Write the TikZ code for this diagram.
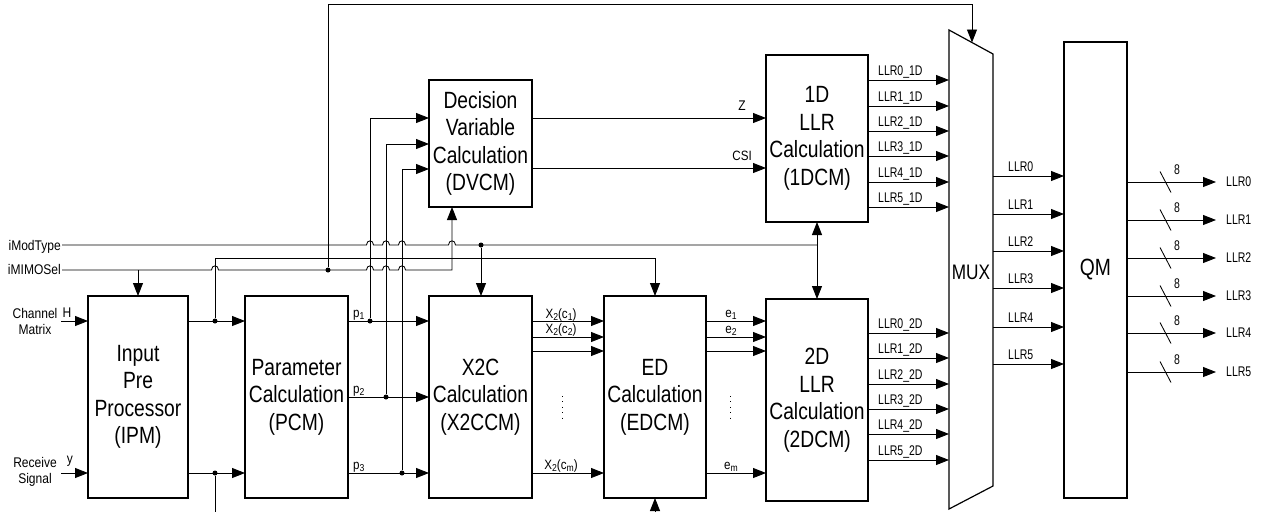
\documentclass[tikz,border=0pt]{standalone}
\usepackage{fontspec}
\setmainfont{Liberation Sans}[FakeStretch=0.82]
\newfontfamily\llrf{Liberation Sans}[FakeStretch=0.75]
\newfontfamily\lblf{Liberation Sans}[FakeStretch=0.86]
\usetikzlibrary{arrows.meta,calc}
\newcommand\sbx[1]{\raisebox{-0.35ex}{\fontsize{10}{10}\selectfont #1}}
\tikzset{
  box/.style={draw, line width=1.2pt, inner sep=0pt, outer sep=0pt, align=center,
    font=\fontsize{23.5}{27.5}\selectfont},
  wire/.style={line width=0.85pt},
  arr/.style={wire, -{Triangle[length=13pt,width=10pt]}},
  jdot/.style={circle, fill, inner sep=0pt, minimum size=5pt},
  llr/.style={font=\llrf\fontsize{14}{16}\selectfont, inner sep=0pt},
  lbl/.style={font=\lblf\fontsize{14}{16}\selectfont, inner sep=0pt, align=center},
  sig/.style={font=\lblf\fontsize{13.5}{15}\selectfont, inner sep=0pt},
}
\begin{document}
\begin{tikzpicture}[x=1pt,y=-1pt]
\useasboundingbox (0,0) rectangle (1265,512);

% ---------- blocks ----------
\node[box,minimum width=100,minimum height=202] (ipm) at (138,397) {Input\\Pre\\Processor\\(IPM)};
\node[box,minimum width=103,minimum height=202] (pcm) at (296.5,397) {Parameter\\Calculation\\(PCM)};
\node[box,minimum width=103,minimum height=127] (dvcm) at (480.5,143.5) {Decision\\Variable\\Calculation\\(DVCM)};
\node[box,minimum width=103,minimum height=202] (x2c) at (480.5,397) {X2C\\Calculation\\(X2CCM)};
\node[box,minimum width=102,minimum height=202] (ed) at (655,397) {ED\\Calculation\\(EDCM)};
\node[box,minimum width=102,minimum height=167] (d1) at (817,138.5) {1D\\LLR\\Calculation\\(1DCM)};
\node[box,minimum width=102,minimum height=202] (d2) at (817,400) {2D\\LLR\\Calculation\\(2DCM)};
\node[box,minimum width=63,minimum height=456] (qm) at (1095.5,270) {QM};

% MUX trapezoid
\draw[line width=1.2pt] (949,30) coordinate (mxa) -- (993,54) coordinate (mxb)
  -- (993,486) coordinate (mxc) -- (949,509) coordinate (mxd) -- cycle;
\node[font=\fontsize{21}{24}\selectfont, inner sep=0pt] (mux) at (971,272) {MUX};
\coordinate (muxtop) at (972,42.5);

% ---------- inputs ----------
\node[lbl] (chm) at (35,321) {Channel\\Matrix};
\node[lbl, anchor=base] (hl) at (67,317) {H};
\coordinate (hin) at (61,321);
\draw[arr] (hin) -- (ipm.west|-hin);
\node[lbl] (rcv) at (35,472) {Receive\\Signal};
\node[lbl, anchor=base] (yl) at (70,463) {y};
\coordinate (yin) at (61,473);
\draw[arr] (yin) -- (ipm.west|-yin);

\node[lbl, anchor=base east] (imt) at (61,250) {iModType};
\node[lbl, anchor=east] (ims) at (61,269) {iMIMOSel};
\coordinate (mt0) at (62,245);
\coordinate (ms0) at (62,270);

% ---------- IPM -> PCM ----------
\draw[arr] (ipm.east|-hin) -- (pcm.west|-hin);
\draw[arr] (ipm.east|-yin) -- (pcm.west|-yin);
\node[jdot] (jh) at (215,321) {};
\node[jdot] (jy) at (215,473) {};
\draw[wire] (jy) -- (jy|-0,512);
\coordinate (edc) at (655,258);
\draw[arr] (jh) |- (edc) -- (ed.north);
\draw[arr] (ed.south|-0,512) -- (ed.south);

% ---------- PCM -> X2C and DVCM ----------
\draw[arr] (pcm.east|-0,321) -- (x2c.west|-0,321);
\draw[arr] (pcm.east|-0,397) -- (x2c.west|-0,397);
\draw[arr] (pcm.east|-0,473) -- (x2c.west|-0,473);
\node[sig, anchor=base west] (p1) at (353,317) {p\sbx{1}};
\node[sig, anchor=base west] (p2) at (353,393) {p\sbx{2}};
\node[sig, anchor=base west] (p3) at (353,469) {p\sbx{3}};
\node[jdot] (jp1) at (370,321) {};
\node[jdot] (jp2) at (386,397) {};
\node[jdot] (jp3) at (402,473) {};
\draw[arr] (jp1) |- (dvcm.west|-0,118);
\draw[arr] (jp2) |- (dvcm.west|-0,144);
\draw[arr] (jp3) |- (dvcm.west|-0,169);

% ---------- control lines ----------
\coordinate (j12) at (817,245);
\draw[wire] (mt0) -- (366.5,245) .. controls (366.5,239.5) and (373.5,239.5) .. (373.5,245)
  -- (382.5,245) .. controls (382.5,239.5) and (389.5,239.5) .. (389.5,245)
  -- (398.5,245) .. controls (398.5,239.5) and (405.5,239.5) .. (405.5,245)
  -- (448.5,245) .. controls (448.5,239.5) and (455.5,239.5) .. (455.5,245)
  -- (j12);
\node[jdot] (jx) at (481,245) {};
\draw[arr] (jx) -- (jx|-x2c.north);
\draw[arr] (j12) -- (d1.south);
\draw[arr] (j12) -- (d2.north);

\coordinate (mc) at (452,270);
\draw[arr] (ms0) -- (211.5,270) .. controls (211.5,264.5) and (218.5,264.5) .. (218.5,270)
  -- (366.5,270) .. controls (366.5,264.5) and (373.5,264.5) .. (373.5,270)
  -- (382.5,270) .. controls (382.5,264.5) and (389.5,264.5) .. (389.5,270)
  -- (398.5,270) .. controls (398.5,264.5) and (405.5,264.5) .. (405.5,270)
  -- (mc) -- (mc|-dvcm.south);
\coordinate (ipmb) at (138,270);
\draw[arr] (ipmb) -- (ipm.north);
\node[jdot] (jf) at (328,270) {};
\draw[arr] (jf) -- (jf|-0,4) -- (muxtop|-0,4) -- (muxtop);

% ---------- DVCM -> 1DCM ----------
\draw[arr] (dvcm.east|-0,118) -- (d1.west|-0,118);
\draw[arr] (dvcm.east|-0,168) -- (d1.west|-0,168);
\node[lbl, anchor=base east] (zl) at (746,110) {Z};
\node[sig, anchor=base east] (csil) at (752,160) {CSI};

% ---------- X2C -> ED -> 2DCM ----------
\foreach \yy in {321,337,351,473} {
  \draw[arr] (x2c.east|-0,\yy) -- (ed.west|-0,\yy);
  \draw[arr] (ed.east|-0,\yy) -- (d2.west|-0,\yy);
}
\node[sig, anchor=base] (xc1) at (561,318) {X\sbx{2}(c\sbx{1})};
\node[sig, anchor=base] (xc2) at (561,333) {X\sbx{2}(c\sbx{2})};
\node[sig, anchor=base] (xcm) at (561,469) {X\sbx{2}(c\sbx{m})};
\node[sig, anchor=base] (e1) at (731,317) {e\sbx{1}};
\node[sig, anchor=base] (e2) at (731,333) {e\sbx{2}};
\node[sig, anchor=base] (em) at (731,469) {e\sbx{m}};
\draw[line width=0.9pt, dash pattern=on 0.9pt off 4.5pt] (562,396) -- (562,419);
\draw[line width=0.9pt, dash pattern=on 0.9pt off 4.5pt] (730,396) -- (730,419);

% ---------- 1DCM / 2DCM -> MUX ----------
\foreach \yy [count=\i from 0] in {80,106,131,156,182,207} {
  \draw[arr] (d1.east|-0,\yy) -- (mxa|-0,\yy);
  \node[llr, anchor=base west] at (878,\yy-5) {LLR\i\_1D};
}
\foreach \yy [count=\i from 0] in {333,358,384,409,434,460} {
  \draw[arr] (d2.east|-0,\yy) -- (mxd|-0,\yy);
  \node[llr, anchor=base west] at (878,\yy-5) {LLR\i\_2D};
}

% ---------- MUX -> QM ----------
\foreach \yy [count=\i from 0] in {176,214,251,288,327,364} {
  \draw[arr] (mxb|-0,\yy) -- (qm.west|-0,\yy);
  \node[llr, anchor=base west] at (1008,\yy-5) {LLR\i};
}

% ---------- QM outputs ----------
\foreach \yy [count=\i from 0] in {182,220,258,296,333,372} {
  \coordinate (o\i) at (1216,\yy);
  \draw[arr] (qm.east|-o\i) -- (o\i);
  \draw[wire] ($(1165.5,\yy)+(-5.5,-10.5)$) -- ($(1165.5,\yy)+(5.5,10.5)$);
  \node[llr, anchor=base] at (1177,\yy-8) {8};
  \node[llr, anchor=west] at (1226,\yy) {LLR\i};
}
\end{tikzpicture}
\end{document}
